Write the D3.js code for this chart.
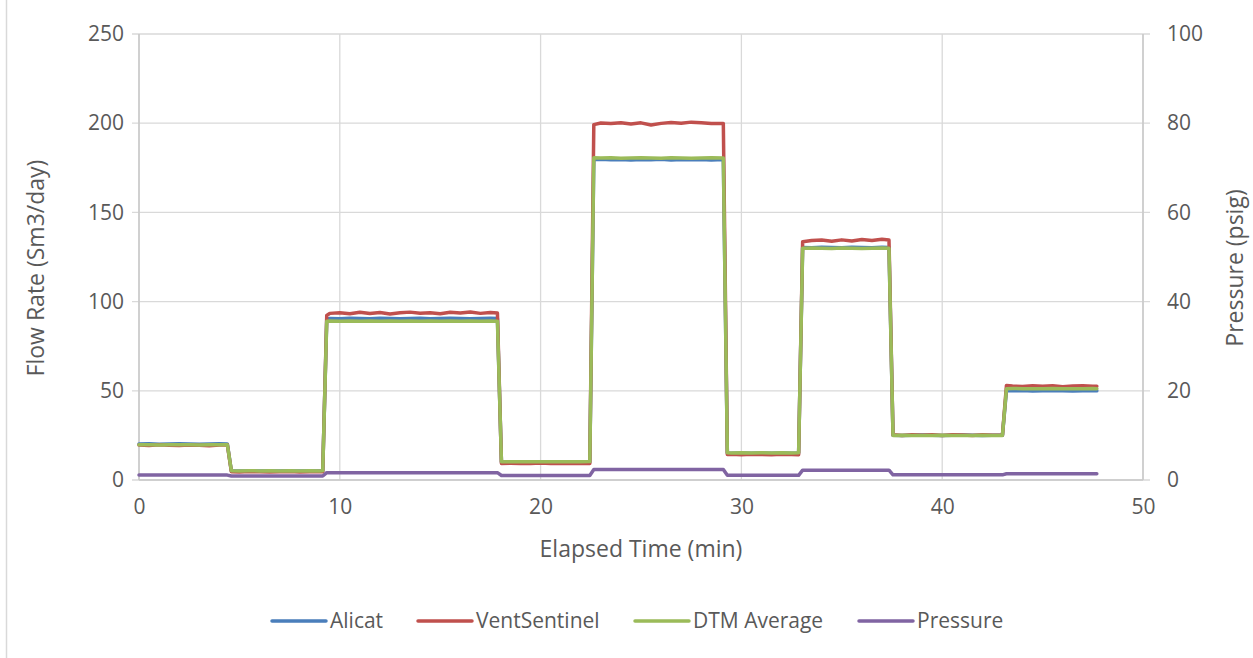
<!DOCTYPE html>
<html>
<head>
    <meta charset="utf-8">
    <style>
        body { margin: 0; background: #fff; }
        svg { display: block; }
        text { font-family: "Open Sans", "Noto Sans", sans-serif; fill: #595959; }
        .grid line { stroke: #d9d9d9; stroke-width: 1.3; }
        .domain { display: none; }
        .tick text { font-size: 21px; }
        .title { font-size: 23px; }
        .legend text { font-size: 21px; }
    </style>
</head>
<body>
<svg width="1253" height="658"></svg>

<script src="https://d3js.org/d3.v7.min.js"></script>
<script>
    // elapsed time (min), shared by every series
    const time = [
        0, 0.5, 1, 1.5, 2, 2.5, 3, 3.5, 4, 4.4,
        4.6, 5, 5.5, 6, 6.5, 7, 7.5, 8, 8.5, 9, 9.15,
        9.35, 9.5, 10, 10.5, 11, 11.5, 12, 12.5, 13, 13.5, 14, 14.5, 15, 15.5, 16, 16.5, 17, 17.5, 17.85,
        18.05, 18.5, 19, 19.5, 20, 20.5, 21, 21.5, 22, 22.45,
        22.65, 23, 23.5, 24, 24.5, 25, 25.5, 26, 26.5, 27, 27.5, 28, 28.5, 29.1,
        29.3, 29.5, 30, 30.5, 31, 31.5, 32, 32.5, 32.85,
        33.05, 33.5, 34, 34.5, 35, 35.5, 36, 36.5, 37, 37.35,
        37.55, 38, 38.5, 39, 39.5, 40, 40.5, 41, 41.5, 42, 42.5, 43.0,
        43.2, 43.5, 44, 44.5, 45, 45.5, 46, 46.5, 47, 47.5, 47.7
    ];

    const alicat = [
        20.2, 20.3, 20.1, 20.2, 20.3, 20.2, 20.1, 20.2, 20.3, 20.2,
        5.1, 5.0, 5.1, 5.0, 5.1, 5.0, 5.1, 5.0, 5.1, 5.0, 5.1,
        90.3, 90.5, 90.4, 90.6, 90.5, 90.4, 90.6, 90.5, 90.4, 90.5, 90.6, 90.4, 90.5, 90.6, 90.5, 90.4, 90.5, 90.6, 90.5,
        10.0, 10.1, 10.0, 10.1, 10.0, 10.1, 10.0, 10.1, 10.0, 10.1,
        179.6, 179.8, 179.5, 179.7, 179.4, 179.6, 179.5, 179.8, 179.4, 179.6, 179.5, 179.7, 179.4, 179.6,
        15.1, 15.0, 15.1, 15.0, 15.1, 15.0, 15.1, 15.0, 15.1,
        130.3, 130.2, 130.4, 130.3, 130.2, 130.4, 130.3, 130.2, 130.4, 130.3,
        25.1, 25.0, 25.1, 25.2, 25.1, 25.0, 25.1, 25.2, 25.1, 25.0, 25.1, 25.1,
        50.1, 50.0, 50.1, 49.9, 50.0, 50.1, 50.0, 49.9, 50.0, 50.1, 50.0
    ];

    const ventSentinel = [
        19.6, 19.4, 19.7, 19.5, 19.3, 19.6, 19.5, 19.2, 19.6, 19.8,
        4.6, 4.5, 4.7, 4.6, 4.5, 4.6, 4.7, 4.5, 4.6, 4.7, 4.6,
        92.2, 93.4, 93.8, 93.2, 94.0, 93.3, 93.9, 93.1, 93.7, 94.1, 93.5, 93.8, 93.2, 94.0, 93.6, 94.2, 93.4, 93.9, 93.6,
        9.3, 9.4, 9.2, 9.3, 9.5, 9.3, 9.2, 9.4, 9.3, 9.2,
        199.2, 200.1, 199.8, 200.3, 199.6, 200.2, 199.0, 199.9, 200.4, 200.0, 200.6, 200.2, 199.8, 199.9,
        14.3, 14.4, 14.2, 14.5, 14.3, 14.2, 14.4, 14.3, 14.2,
        133.6, 134.2, 134.5, 133.8, 134.6, 134.0, 134.8, 134.2, 134.9, 134.5,
        25.3, 25.0, 25.4, 25.1, 25.3, 24.9, 25.4, 25.2, 25.0, 25.3, 25.1, 25.2,
        53.0, 52.7, 52.4, 52.9, 52.5, 52.8, 52.3, 52.7, 52.9, 52.5, 52.6
    ];

    const dtmAverage = [
        19.7, 19.8, 19.6, 19.7, 19.8, 19.7, 19.6, 19.7, 19.8, 19.7,
        5.2, 5.1, 5.2, 5.1, 5.2, 5.1, 5.2, 5.1, 5.2, 5.1, 5.2,
        89.0, 89.1, 89.0, 89.1, 89.0, 89.1, 89.0, 89.1, 89.0, 89.1, 89.0, 89.1, 89.0, 89.1, 89.0, 89.1, 89.0, 89.1, 89.0,
        10.2, 10.3, 10.2, 10.3, 10.2, 10.3, 10.2, 10.3, 10.2, 10.3,
        180.6, 180.5, 180.6, 180.4, 180.5, 180.6, 180.5, 180.4, 180.6, 180.5, 180.4, 180.5, 180.6, 180.5,
        15.3, 15.2, 15.3, 15.2, 15.3, 15.2, 15.3, 15.2, 15.3,
        129.9, 130.0, 129.9, 129.8, 130.0, 129.9, 129.8, 129.9, 130.0, 129.9,
        25.0, 25.1, 25.0, 24.9, 25.0, 25.1, 25.0, 24.9, 25.0, 25.1, 25.0, 25.0,
        51.2, 51.3, 51.2, 51.1, 51.2, 51.3, 51.2, 51.1, 51.2, 51.3, 51.2
    ];

    // psig, right axis
    const pressure = [
        1.1, 1.1, 1.1, 1.1, 1.1, 1.1, 1.1, 1.1, 1.1, 1.1,
        0.9, 0.9, 0.9, 0.9, 0.9, 0.9, 0.9, 0.9, 0.9, 0.9, 0.9,
        1.65, 1.65, 1.65, 1.65, 1.65, 1.65, 1.65, 1.65, 1.65, 1.65, 1.65, 1.65, 1.65, 1.65, 1.65, 1.65, 1.65, 1.65, 1.65,
        1.0, 1.0, 1.0, 1.0, 1.0, 1.0, 1.0, 1.0, 1.0, 1.0,
        2.35, 2.35, 2.35, 2.35, 2.35, 2.35, 2.35, 2.35, 2.35, 2.35, 2.35, 2.35, 2.35, 2.35,
        1.05, 1.05, 1.05, 1.05, 1.05, 1.05, 1.05, 1.05, 1.05,
        2.2, 2.2, 2.2, 2.2, 2.2, 2.2, 2.2, 2.2, 2.2, 2.2,
        1.15, 1.15, 1.15, 1.15, 1.15, 1.15, 1.15, 1.15, 1.15, 1.15, 1.15, 1.15,
        1.4, 1.4, 1.4, 1.4, 1.4, 1.4, 1.4, 1.4, 1.4, 1.4, 1.4
    ];

    const xTicks = [0, 10, 20, 30, 40, 50];
    const yTicks = [0, 50, 100, 150, 200, 250];
    const y2Ticks = [0, 20, 40, 60, 80, 100];

    const seriesNames = ["Alicat", "VentSentinel", "DTM Average", "Pressure"];
    const seriesColors = ["#4a7ebb", "#c0504d", "#9bbb59", "#8064a2"];

    let plotL = 139, plotR = 1143, plotT = 34, plotB = 480;

    let svg = d3.select("svg");

    // outer chart frame (only the left edge is inside the picture)
    svg.append("line")
        .attr("x1", 6.5).attr("x2", 6.5)
        .attr("y1", 0).attr("y2", 658)
        .style("stroke", "#d9d9d9")
        .style("stroke-width", 1.5);

    let x = d3.scaleLinear().domain([0, 50]).range([plotL, plotR]);
    let y = d3.scaleLinear().domain([0, 250]).range([plotB, plotT]);
    let y2 = d3.scaleLinear().domain([0, 100]).range([plotB, plotT]);

    // gridlines
    svg.append("g").attr("class", "grid")
        .selectAll("line")
        .data(yTicks)
        .join("line")
        .attr("x1", plotL - 7).attr("x2", plotR + 7)
        .attr("y1", d => y(d)).attr("y2", d => y(d));

    svg.append("g").attr("class", "grid")
        .selectAll("line")
        .data(xTicks)
        .join("line")
        .attr("x1", d => x(d)).attr("x2", d => x(d))
        .attr("y1", plotT).attr("y2", plotB);

    // axis lines
    svg.append("line")
        .attr("x1", plotL).attr("x2", plotL).attr("y1", plotT).attr("y2", plotB)
        .style("stroke", "#c8c8c8").style("stroke-width", 1.5);
    svg.append("line")
        .attr("x1", plotR).attr("x2", plotR).attr("y1", plotT).attr("y2", plotB)
        .style("stroke", "#c8c8c8").style("stroke-width", 1.5);
    svg.append("line")
        .attr("x1", plotL).attr("x2", plotR).attr("y1", plotB).attr("y2", plotB)
        .style("stroke", "#c8c8c8").style("stroke-width", 1.5);

    // axes (labels only)
    let xAxis = svg.append("g")
        .attr("transform", `translate(0,${plotB})`)
        .call(d3.axisBottom(x).tickValues(xTicks).tickSize(0).tickPadding(19));
    let yAxis = svg.append("g")
        .attr("transform", `translate(${plotL},0)`)
        .call(d3.axisLeft(y).tickValues(yTicks).tickSize(0).tickPadding(15));
    let y2Axis = svg.append("g")
        .attr("transform", `translate(${plotR},0)`)
        .call(d3.axisRight(y2).tickValues(y2Ticks).tickSize(0).tickPadding(24));
    [xAxis, yAxis, y2Axis].forEach(a => {
        a.selectAll(".tick line").remove();
        a.attr("font-family", null).attr("font-size", null);
        a.selectAll("text").style("fill", "#595959");
    });

    // titles
    svg.append("text").attr("class", "title")
        .attr("x", (plotL + plotR) / 2).attr("y", 557)
        .attr("text-anchor", "middle")
        .text("Elapsed Time (min)");
    svg.append("text").attr("class", "title")
        .attr("transform", `translate(44,268) rotate(-90)`)
        .attr("text-anchor", "middle")
        .text("Flow Rate (Sm3/day)");
    svg.append("text").attr("class", "title")
        .attr("transform", `translate(1243,268) rotate(-90)`)
        .attr("text-anchor", "middle")
        .text("Pressure (psig)");

    // lines
    let flowLine = d3.line().x((d, i) => x(time[i])).y(d => y(d));
    let pressLine = d3.line().x((d, i) => x(time[i])).y(d => y2(d));

    let allSeries = [alicat, ventSentinel, dtmAverage, pressure];
    allSeries.forEach((s, k) => {
        svg.append("path")
            .datum(s)
            .attr("d", k == 3 ? pressLine : flowLine)
            .style("fill", "none")
            .style("stroke", seriesColors[k])
            .style("stroke-width", 3.5)
            .style("stroke-linejoin", "round")
            .style("stroke-linecap", "round");
    });

    // legend
    let legendX = [272, 418, 635, 859];
    let legend = svg.append("g").attr("class", "legend")
        .selectAll("g")
        .data(seriesNames)
        .join("g")
        .attr("transform", (d, i) => `translate(${legendX[i]},621)`);
    legend.append("line")
        .attr("x1", 0).attr("x2", 54)
        .style("stroke", (d, i) => seriesColors[i])
        .style("stroke-width", 3.5)
        .style("stroke-linecap", "round");
    legend.append("text")
        .attr("x", 58).attr("dy", "0.35em")
        .text(d => d);
</script>
</body>
</html>
